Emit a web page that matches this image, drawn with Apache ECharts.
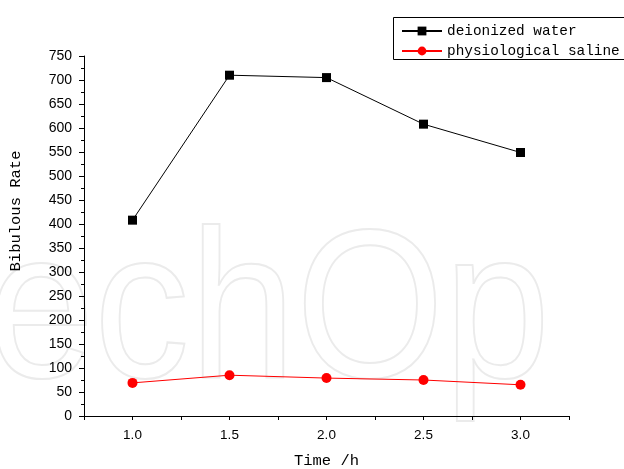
<!DOCTYPE html>
<html>
<head>
<meta charset="utf-8">
<script src="https://cdn.jsdelivr.net/npm/echarts@6/dist/echarts.min.js"></script>
<style>html,body{margin:0;padding:0;background:#fff}#c{width:624px;height:469px}</style>
</head>
<body>
<div id="c"></div>
<script>
var times = [1.0, 1.5, 2.0, 2.5, 3.0];
var deionizedWater = [408, 710, 705, 608, 549];
var physiologicalSaline = [69, 85, 79, 75, 65];
var seriesNames = ['deionized water', 'physiological saline'];
var xTitle = 'Time /h';
var yTitle = 'Bibulous Rate';

function pairs(xs, ys) { return xs.map(function (x, i) { return [x, ys[i]]; }); }

var chart = echarts.init(document.getElementById('c'));
var monoFont = '"Liberation Mono", "DejaVu Sans Mono", monospace';
var sansFont = '"Liberation Sans", Arial, sans-serif';
chart.setOption({
  animation: false,
  backgroundColor: '#fff',
  graphic: [{
    type: 'text', x: -12, y: 319, scaleX: 0.9, z: -10, silent: true,
    style: { text: 'echOp', x: 0, y: 0, verticalAlign: 'middle', font: '212px "Liberation Sans"', fill: 'rgba(0,0,0,0)', stroke: '#ebebeb', lineWidth: 2 }
  }, {
    type: 'rect', silent: true, z: 5,
    shape: { x: 393.5, y: 17.5, width: 280, height: 42 },
    style: { fill: 'rgba(0,0,0,0)', stroke: '#000', lineWidth: 1 }
  }],
  grid: { left: 84, right: 55, top: 56, bottom: 53, containLabel: false, outerBoundsMode: 'none' },
  legend: {
    orient: 'vertical', left: 393, top: 17,
    padding: [7, 10, 1, 8], itemGap: 6,
    itemWidth: 40, itemHeight: 11,
    borderWidth: 0,
    textStyle: { fontFamily: monoFont, fontSize: 14.4, color: '#000', lineHeight: 14 },
    data: seriesNames
  },
  xAxis: {
    type: 'value', min: 0.75, max: 3.25, interval: 0.25,
    name: xTitle, nameLocation: 'middle', nameGap: 37,
    nameTextStyle: { fontFamily: monoFont, fontSize: 15.5, color: '#000' },
    axisLine: { show: true, lineStyle: { color: '#000', width: 1 } },
    axisTick: { show: true, length: 4, lineStyle: { color: '#000' } },
    splitLine: { show: false },
    axisLabel: {
      fontFamily: sansFont, fontSize: 13.5, color: '#000', margin: 12,
      formatter: function (v) { return (Math.abs(v * 2 - Math.round(v * 2)) < 1e-6 && v >= 1 && v <= 3) ? v.toFixed(1) : ''; }
    }
  },
  yAxis: {
    type: 'value', min: 0, max: 750, interval: 50,
    name: yTitle, nameLocation: 'middle', nameGap: 60, nameRotate: 90,
    nameTextStyle: { fontFamily: monoFont, fontSize: 15.5, color: '#000', padding: [0, 0, 0, 50] },
    axisLine: { show: true, lineStyle: { color: '#000', width: 1 } },
    axisTick: { show: true, length: 5, lineStyle: { color: '#000' } },
    minorTick: { show: true, splitNumber: 2, length: 3, lineStyle: { color: '#000' } },
    splitLine: { show: false },
    axisLabel: { fontFamily: sansFont, fontSize: 14, color: '#000', margin: 12 }
  },
  series: [{
    name: seriesNames[0], type: 'line', data: pairs(times, deionizedWater),
    symbol: 'rect', symbolSize: 9,
    lineStyle: { color: '#000', width: 1 }, itemStyle: { color: '#000' }
  }, {
    name: seriesNames[1], type: 'line', data: pairs(times, physiologicalSaline),
    symbol: 'circle', symbolSize: 10,
    lineStyle: { color: '#ff0000', width: 1 }, itemStyle: { color: '#ff0000' }
  }]
});
</script>
</body>
</html>
